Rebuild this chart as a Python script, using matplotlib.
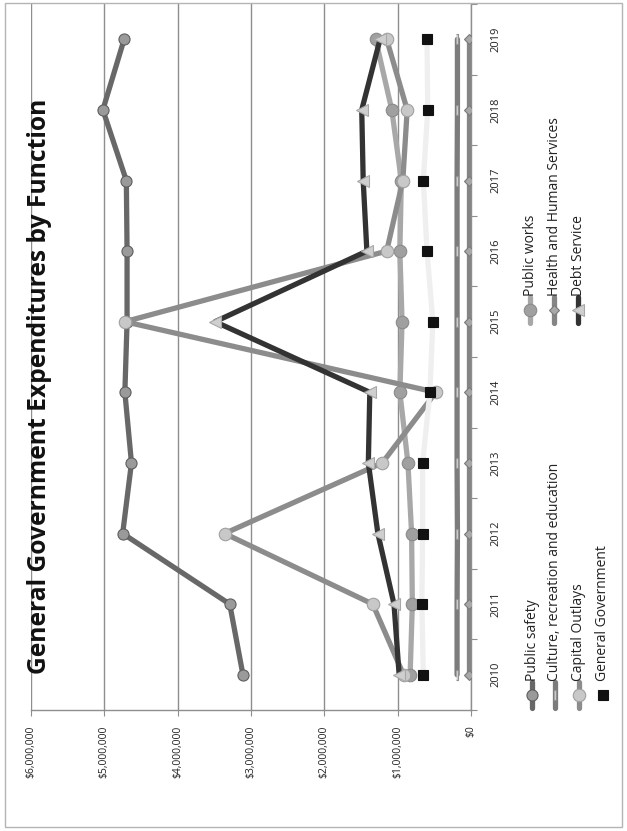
import numpy as np
import matplotlib
matplotlib.use('Agg')
import matplotlib.pyplot as plt
from matplotlib.lines import Line2D
from matplotlib.patches import Rectangle
from matplotlib.ticker import FuncFormatter

plt.rcParams['font.family'] = ['Open Sans', 'DejaVu Sans']

# Expenditures by function, 2010-2019 (dollars)
years = [2010, 2011, 2012, 2013, 2014, 2015, 2016, 2017, 2018, 2019]
public_safety = [3110000, 3290000, 4750000, 4630000, 4720000, 4690000, 4690000, 4700000, 5020000, 4730000]
public_works = [830000, 800000, 810000, 860000, 970000, 940000, 970000, 950000, 1080000, 1300000]
culture = [190000, 190000, 185000, 190000, 190000, 190000, 190000, 190000, 185000, 185000]
health = [30000, 30000, 30000, 30000, 30000, 30000, 30000, 30000, 30000, 30000]
capital_outlays = [920000, 1340000, 3360000, 1210000, 480000, 4720000, 1150000, 930000, 870000, 1150000]
debt_service = [980000, 1050000, 1270000, 1400000, 1380000, 3490000, 1420000, 1470000, 1490000, 1240000]
general_government = [650000, 670000, 660000, 660000, 560000, 520000, 600000, 650000, 590000, 600000]

value_ticks = [0, 1000000, 2000000, 3000000, 4000000, 5000000, 6000000]

W, H = 627, 831
fig = plt.figure(figsize=(W / 100, H / 100), dpi=100)
fig.patch.set_facecolor('white')


def fx(px):
    return px / W


def fy(py):
    return 1 - py / H


# plot area: value axis runs right-to-left, years run bottom-to-top
ax = fig.add_axes([fx(31), fy(710), fx(471) - fx(31), fy(4) - fy(710)])
ax.set_xlim(6000000, 0)
ax.set_ylim(2009.5, 2019.5)

styles = [
    # label, data, line colour, marker, face, edge, size
    ('Public safety', public_safety, '#686868', 'o', '#9a9a9a', '#5e5e5e', 8),
    ('Public works', public_works, '#a8a8a8', 'o', '#a0a0a0', '#8a8a8a', 9),
    ('Culture, recreation and education', culture, '#7c7c7c', [(-0.3, -1), (0.3, -1), (0.3, 1), (-0.3, 1)], '#d0d0d0', '#909090', 7),
    ('Health and Human Services', health, '#858585', 'D', '#a8a8a8', '#7a7a7a', 5),
    ('Capital Outlays', capital_outlays, '#8c8c8c', 'o', '#c8c8c8', '#a0a0a0', 9),
    ('Debt Service', debt_service, '#333333', '<', '#cfcfcf', '#a8a8a8', 9),
    ('General Government', general_government, '#efefef', 's', '#111111', '#111111', 6.5),
]

for label, data, lc, mk, mf, me, ms in styles:
    ax.plot(data, years, color=lc, lw=3.8, marker=mk, markersize=ms,
            markerfacecolor=mf, markeredgecolor=me, markeredgewidth=0.8,
            solid_joinstyle='round', solid_capstyle='round', zorder=3)

# gridlines and axes
ax.set_xticks(value_ticks)
ax.xaxis.set_major_formatter(FuncFormatter(lambda v, p: '${:,.0f}'.format(v)))
ax.grid(axis='x', color='#8e8e8e', lw=1.0, zorder=0)
for s in ['top', 'left']:
    ax.spines[s].set_visible(False)
ax.spines['bottom'].set_color('#8e8e8e')
ax.spines['right'].set_color('#8e8e8e')
ax.spines['bottom'].set_linewidth(1.0)
ax.spines['right'].set_linewidth(1.0)

ax.yaxis.tick_right()
ax.set_yticks(years)
ax.set_yticklabels([str(y) for y in years])
ax.set_yticks(np.arange(2009.5, 2020, 1.0), minor=True)
ax.tick_params(axis='y', which='major', length=0, pad=14, labelsize=8, labelrotation=90, colors='#222222')
ax.tick_params(axis='y', which='minor', length=4, width=0.8, color='#8e8e8e', direction='out')
ax.tick_params(axis='x', which='major', length=4, width=0.8, color='#8e8e8e', pad=7,
               labelsize=7.5, labelrotation=90, labelcolor='#222222')
for t in ax.get_yticklabels():
    t.set_verticalalignment('center')

# title, reading upward along the left edge
fig.text(fx(40), fy(386), 'General Government Expenditures by Function', rotation=90,
         ha='center', va='center', fontsize=17.7, fontweight='bold', color='#111111')

# legend, two columns drawn below the year labels
legend_cols = [
    (fy(695), ['Public safety', 'Culture, recreation and education', 'Capital Outlays', 'General Government']),
    (fy(310), ['Public works', 'Health and Human Services', 'Debt Service']),
]
by_label = {s[0]: s for s in styles}
col_x = [[fx(532), fx(555), fx(579), fx(603)], [fx(530), fx(554), fx(578)]]
for (ymid, labels), xs in zip(legend_cols, col_x):
    for x, label in zip(xs, labels):
        _, _, lc, mk, mf, me, ms = by_label[label]
        half = 13 / H
        if label != 'General Government':
            fig.add_artist(Line2D([x, x], [ymid - half, ymid + half], transform=fig.transFigure,
                                  color=lc, lw=3.8, solid_capstyle='round'))
        fig.add_artist(Line2D([x], [ymid], transform=fig.transFigure, marker=mk, markersize=ms,
                              markerfacecolor=mf, markeredgecolor=me, markeredgewidth=0.8, lw=0))
        fig.text(x, ymid + half + 1 / H, label, rotation=90, ha='center', va='bottom',
                 fontsize=10, color='#222222')

# outer chart border
fig.add_artist(Rectangle((fx(5), fy(827)), fx(622) - fx(5), fy(3) - fy(827), transform=fig.transFigure,
                         fill=False, edgecolor='#b4b4b4', lw=1.0))

fig.savefig('out.png', dpi=100)
